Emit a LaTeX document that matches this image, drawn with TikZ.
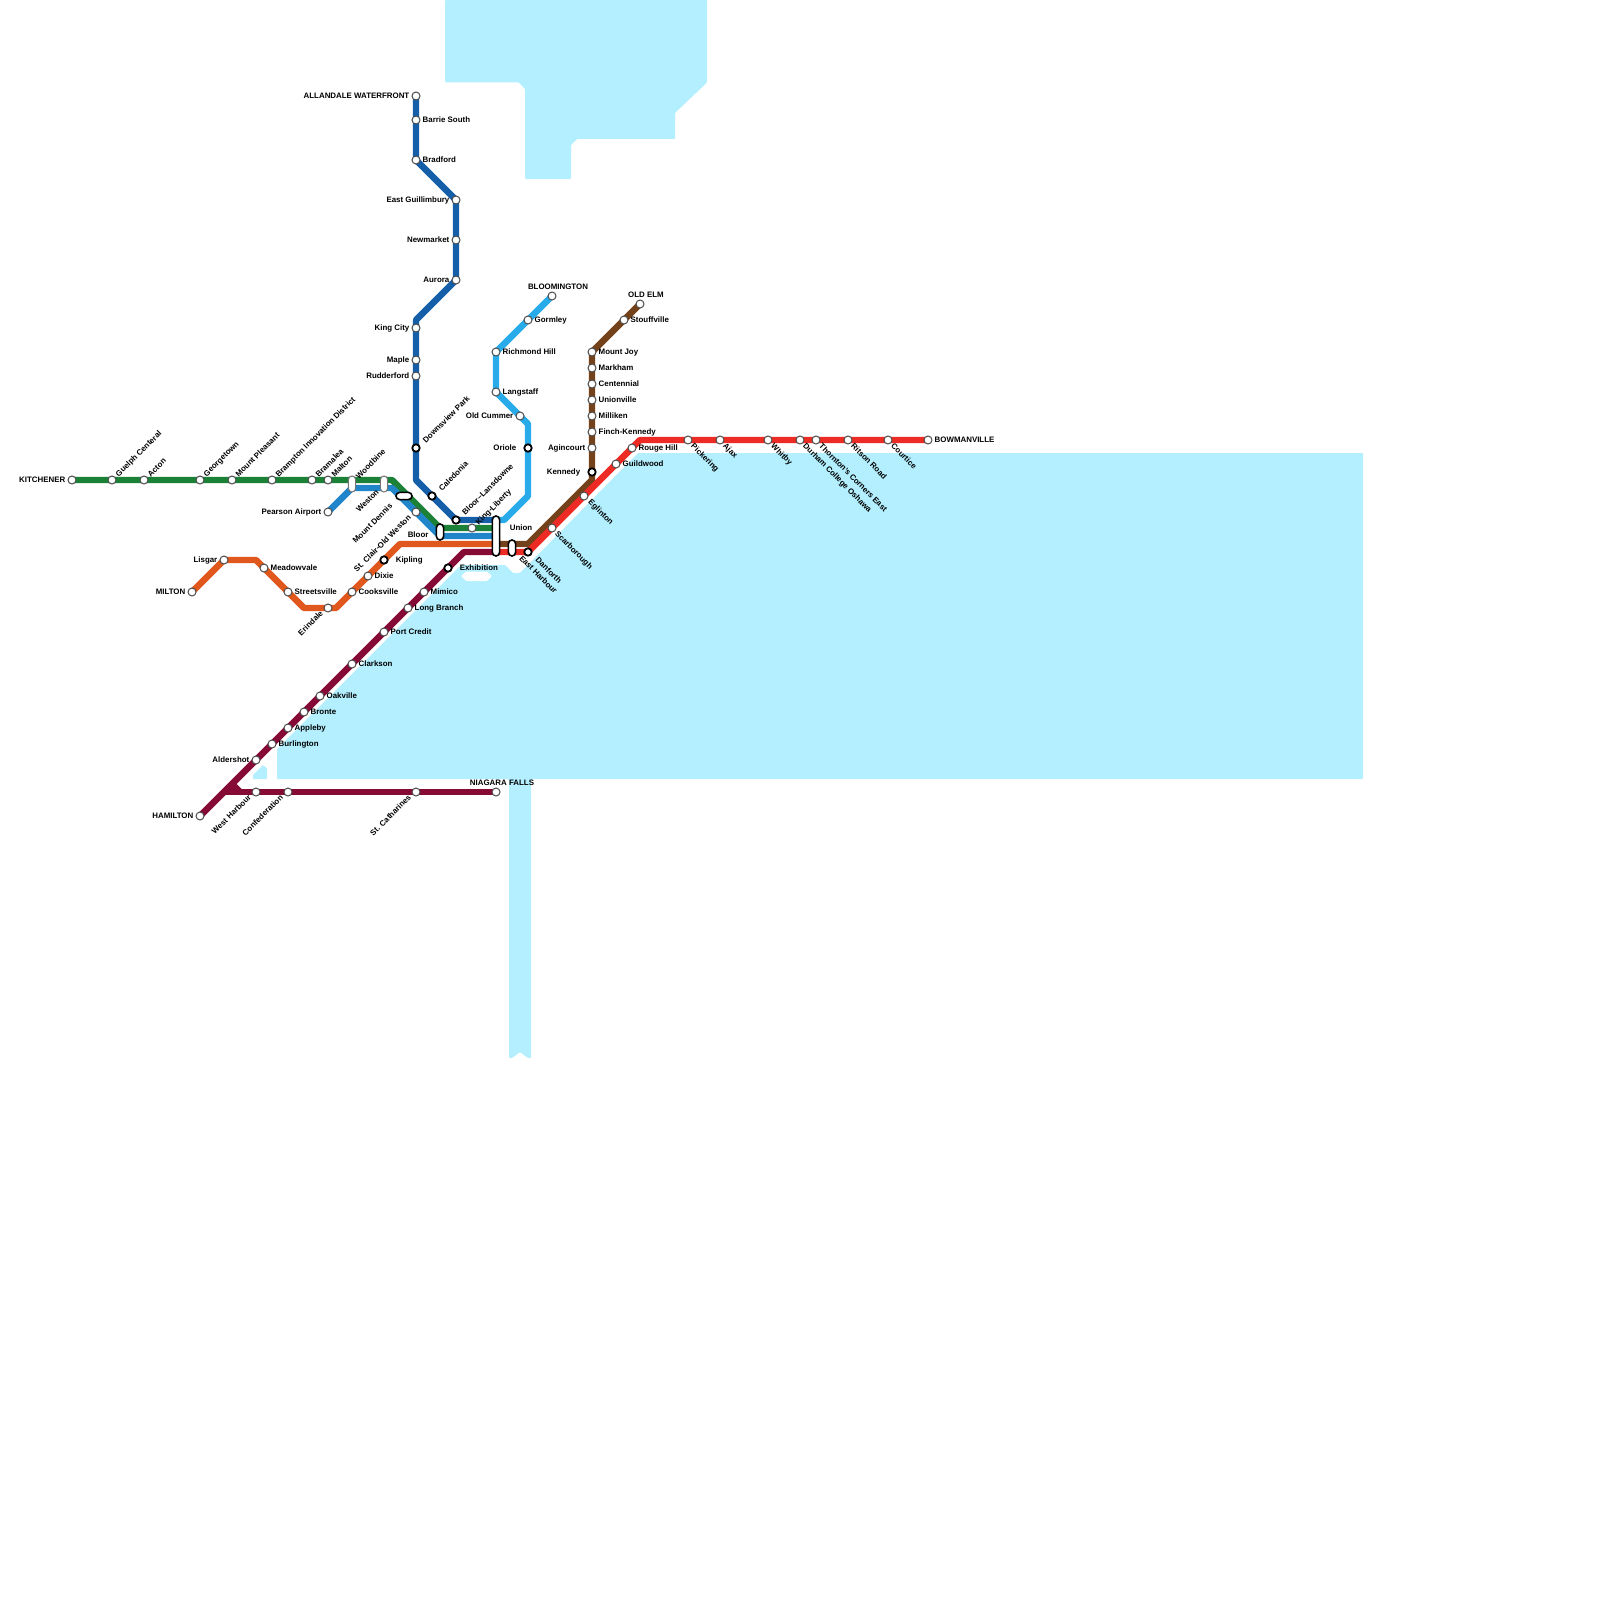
\documentclass[tikz,border=0pt]{standalone}
\usepackage{fontspec}
\setmainfont{Liberation Sans}
\usetikzlibrary{positioning}
\pgfdeclarelayer{bg}
\pgfsetlayers{bg,main}
\definecolor{water}{HTML}{B3EFFE}
\definecolor{lnGreen}{HTML}{1A8137}
\definecolor{lnNavy}{HTML}{155FA8}
\definecolor{lnBlue}{HTML}{2085C9}
\definecolor{lnSky}{HTML}{29ABE9}
\definecolor{lnOrange}{HTML}{E0581E}
\definecolor{lnMaroon}{HTML}{850A35}
\definecolor{lnBrown}{HTML}{74421A}
\definecolor{lnRed}{HTML}{EE2A24}
\tikzset{
  lab/.style={font=\bfseries\fontsize{3.95}{5}\selectfont, text=black, inner sep=0.9pt, text height=2.9pt, text depth=0pt},
  lbE/.style={label={[lab]right:#1}},
  lbW/.style={label={[lab]left:#1}},
  lbNE/.style={label={[lab,rotate=45,anchor=west]45:#1}},
  lbSE/.style={label={[lab,rotate=-45,anchor=west]-45:#1}},
  lbSW/.style={label={[lab,xshift=-0.9pt,yshift=0.3pt,rotate=45,anchor=east]225:#1}},
  stn/.style={circle, draw=black!70, line width=0.5pt, fill=white, minimum size=4pt, inner sep=0pt},
  ring/.style={circle, draw=black, line width=0.9pt, fill=white, minimum size=3.7pt, inner sep=0pt},
  pillV/.style={rectangle, rounded corners=1.8pt, draw=black, line width=0.8pt, fill=white, minimum width=3.6pt, minimum height=#1, inner sep=0pt},
  pillH/.style={rectangle, rounded corners=1.8pt, draw=black, line width=0.8pt, fill=white, minimum height=3.6pt, minimum width=#1, inner sep=0pt},
  pillG/.style={pillV=#1, draw=black!55, line width=0.5pt},
  track/.style={line width=3.2pt, line join=round}
}
\begin{document}
\begin{tikzpicture}[x=0.5pt,y=-0.5pt]
  \path[use as bounding box] (0,0) rectangle (1600,1600);

  % Kitchener line
  \node (kitchener) [stn, lbW=KITCHENER] at (72,480) {};
  \node (guelph) [stn, lbNE=Guelph Centeral] at (112,480) {};
  \node (acton) [stn, lbNE=Acton] at (144,480) {};
  \node (georgetown) [stn, lbNE=Georgetown] at (200,480) {};
  \node (mtpleasant) [stn, lbNE=Mount Pleasant] at (232,480) {};
  \node (brampton) [stn, lbNE=Brampton Innovation District] at (272,480) {};
  \node (bramalea) [stn, lbNE=Bramalea] at (312,480) {};
  \node (malton) [stn, lbNE=Malton] at (328,480) {};
  \node (stclair) [stn, lbSW=St. Clair-Old Weston] at (416,512) {};
  \node (kingliberty) [stn, lbNE=King-Liberty] at (472,528) {};

  % Airport line
  \node (pearson) [stn, lbW=Pearson Airport] at (328,512) {};
  \node (woodbine) [pillG=8pt, label={[lab,xshift=-0.3pt,yshift=0.6pt,rotate=45,anchor=west]45:Woodbine}] at (352,484) {};
  \node (weston) [pillG=8pt, label={[lab,xshift=-0.5pt,yshift=-0.6pt,rotate=45,anchor=east]225:Weston}] at (384,484) {};
  \node (mtdennis) [pillH=8pt, label={[lab,xshift=-3.6pt,yshift=-1.4pt,rotate=45,anchor=east]225:Mount Dennis}] at (404,496) {};
  \node (bloor) [pillV=8pt] at (440,532) {};
  \node (bloorT) [lab, left=2.5pt of bloor.west, yshift=-1.5pt] {Bloor};

  % Barrie line
  \node (allandale) [stn, lbW=ALLANDALE WATERFRONT] at (416,96) {};
  \node (barrie) [stn, lbE=Barrie South] at (416,120) {};
  \node (bradford) [stn, lbE=Bradford] at (416,160) {};
  \node (eastgwil) [stn, lbW=East Guillimbury] at (456,200) {};
  \node (newmarket) [stn, lbW=Newmarket] at (456,240) {};
  \node (aurora) [stn, lbW=Aurora] at (456,280) {};
  \node (kingcity) [stn, lbW=King City] at (416,328) {};
  \node (maple) [stn, lbW=Maple] at (416,360) {};
  \node (rutherford) [stn, lbW=Rudderford] at (416,376) {};
  \node (downsview) [ring, label={[lab,rotate=45,anchor=west,xshift=1.8pt,yshift=-0.5pt]45:Downsview Park}] at (416,448) {};
  \node (caledonia) [ring, label={[lab,rotate=45,anchor=west,xshift=1.8pt,yshift=-0.5pt]45:Caledonia}] at (432,496) {};
  \node (lansdowne) [ring, label={[lab,rotate=45,anchor=west,xshift=1.5pt,yshift=-0.3pt]45:Bloor–Lansdowne}] at (456,520) {};

  % Milton line
  \node (milton) [stn, lbW=MILTON] at (192,592) {};
  \node (lisgar) [stn, lbW=Lisgar] at (224,560) {};
  \node (meadowvale) [stn, lbE=Meadowvale] at (264,568) {};
  \node (streetsville) [stn, lbE=Streetsville] at (288,592) {};
  \node (erindale) [stn, lbSW=Erindale] at (328,608) {};
  \node (cooksville) [stn, lbE=Cooksville] at (352,592) {};
  \node (dixie) [stn, lbE=Dixie] at (368,576) {};
  \node (kipling) [ring, label={[lab,xshift=2.5pt]right:Kipling}] at (384,560) {};

  % Lakeshore West line
  \node (hamilton) [stn, lbW=HAMILTON] at (200,816) {};
  \node (aldershot) [stn, lbW=Aldershot] at (256,760) {};
  \node (burlington) [stn, lbE=Burlington] at (272,744) {};
  \node (appleby) [stn, lbE=Appleby] at (288,728) {};
  \node (bronte) [stn, lbE=Bronte] at (304,712) {};
  \node (oakville) [stn, lbE=Oakville] at (320,696) {};
  \node (clarkson) [stn, lbE=Clarkson] at (352,664) {};
  \node (portcredit) [stn, lbE=Port Credit] at (384,632) {};
  \node (longbranch) [stn, lbE=Long Branch] at (408,608) {};
  \node (mimico) [stn, lbE=Mimico] at (424,592) {};
  \node (exhibition) [ring, label={[lab,xshift=2.5pt]right:Exhibition}] at (448,568) {};
  \node (westharbour) [stn, lbSW=West Harbour] at (256,792) {};
  \node (confederation) [stn, lbSW=Confederation] at (288,792) {};
  \node (catharines) [stn, lbSW=St. Catharines] at (416,792) {};
  \node (niagara) [stn, label={[lab,xshift=3pt]above:NIAGARA FALLS}] at (496,792) {};

  % Richmond Hill line
  \node (bloomington) [stn, label={[lab,xshift=3pt]above:BLOOMINGTON}] at (552,296) {};
  \node (gormley) [stn, lbE=Gormley] at (528,320) {};
  \node (richmond) [stn, lbE=Richmond Hill] at (496,352) {};
  \node (langstaff) [stn, lbE=Langstaff] at (496,392) {};
  \node (oldcummer) [stn, lbW=Old Cummer] at (520,416) {};
  \node (oriole) [ring, label={[lab,xshift=-2.5pt]left:Oriole}] at (528,448) {};

  % Stouffville line
  \node (oldelm) [stn, label={[lab,xshift=3pt]above:OLD ELM}] at (640,304) {};
  \node (stouffville) [stn, lbE=Stouffville] at (624,320) {};
  \node (mtjoy) [stn, lbE=Mount Joy] at (592,352) {};
  \node (markham) [stn, lbE=Markham] at (592,368) {};
  \node (centennial) [stn, lbE=Centennial] at (592,384) {};
  \node (unionville) [stn, lbE=Unionville] at (592,400) {};
  \node (milliken) [stn, lbE=Milliken] at (592,416) {};
  \node (finch) [stn, lbE=Finch-Kennedy] at (592,432) {};
  \node (agincourt) [stn, lbW=Agincourt] at (592,448) {};
  \node (kennedy) [ring, label={[lab,xshift=-2.5pt]left:Kennedy}] at (592,472) {};

  % Lakeshore East line
  \node (bowmanville) [stn, lbE=BOWMANVILLE] at (928,440) {};
  \node (courtice) [stn, lbSE=Courtice] at (888,440) {};
  \node (ritson) [stn, lbSE=Ritson Road] at (848,440) {};
  \node (thornton) [stn, lbSE=Thornton's Corners East] at (816,440) {};
  \node (durham) [stn, lbSE=Durham College Oshawa] at (800,440) {};
  \node (whitby) [stn, lbSE=Whitby] at (768,440) {};
  \node (ajax) [stn, lbSE=Ajax] at (720,440) {};
  \node (pickering) [stn, lbSE=Pickering] at (688,440) {};
  \node (rouge) [stn, lbE=Rouge Hill] at (632,448) {};
  \node (guildwood) [stn, lbE=Guildwood] at (616,464) {};
  \node (eglinton) [stn, label={[lab,xshift=0.6pt,rotate=-45,anchor=west]-45:Eglinton}] at (584,496) {};
  \node (scarborough) [stn, lbSE=Scarborough] at (552,528) {};
  \node (danforth) [ring, label={[lab,xshift=2.2pt,yshift=-0.9pt,rotate=-45,anchor=west]-45:Danforth}] at (528,552) {};
  \node (eastharbour) [pillV=8pt, label={[lab,xshift=1.5pt,yshift=-1.5pt,rotate=-45,anchor=west]-45:East Harbour}] at (512,548) {};
  \node (union) [pillV=20pt] at (496,536) {};
  \node (unionT) [lab] at (521,528) {Union};

  % Bends and free ends
  \coordinate (gnA) at (392,480);
  \coordinate (gnB) at (440,528);
  \coordinate (gnC) at (496,528);
  \coordinate (buA) at (352,488);
  \coordinate (buB) at (392,488);
  \coordinate (buC) at (440,536);
  \coordinate (buD) at (496,536);
  \coordinate (nvA) at (416,320);
  \coordinate (nvB) at (416,480);
  \coordinate (nvC) at (496,520);
  \coordinate (orA) at (256,560);
  \coordinate (orB) at (304,608);
  \coordinate (orC) at (336,608);
  \coordinate (orD) at (400,544);
  \coordinate (orE) at (496,544);
  \coordinate (mrA) at (464,552);
  \coordinate (mrB) at (496,552);
  \coordinate (mrC) at (224,792);
  \coordinate (mrD) at (232,784);
  \coordinate (mrE) at (240,792);
  \coordinate (skA) at (528,424);
  \coordinate (skB) at (528,496);
  \coordinate (skC) at (504,520);
  \coordinate (skD) at (496,520);
  \coordinate (brA) at (592,480);
  \coordinate (brB) at (528,544);
  \coordinate (brC) at (496,544);
  \coordinate (rdA) at (640,440);

  \begin{pgfonlayer}{bg}
    % Water
    \fill[water, rounded corners=0.5pt] (445,0) -- (707,0) -- (707,82.5) -- (675,113) -- (675,139) -- (577,139) -- (571,145) -- (571,179) -- (525,179) -- (525,89) -- (519,82.5) -- (445,82.5) -- cycle;
    \fill[water, rounded corners=0.5pt] (638,453) -- (1363,453) -- (1363,779) -- (531,779) -- (531,1058) -- (528,1058) -- (520,1052) -- (512,1058) -- (509,1058) -- (509,779) -- (277,779) -- (277,749) -- (461,565) -- (505,565) -- (513,573) -- (520,573) -- cycle;
    \fill[water, rounded corners=0.5pt] (253,779) -- (253,775) -- (263,765) -- (267,768) -- (267,779) -- cycle;
    \fill[white, rounded corners=0.5pt] (461,576) -- (466,571.5) -- (487,571.5) -- (492,576) -- (487,581) -- (466,581) -- cycle;

    % Lines
    \draw[track, lnGreen] (kitchener.center) -- (gnA) -- (gnB) -- (gnC);
    \draw[track, lnBlue] (pearson.center) -- (buA) -- (buB) -- (buC) -- (buD);
    \draw[track, lnNavy] (allandale.center) -- (bradford.center) -- (eastgwil.center) -- (aurora.center) -- (nvA) -- (nvB) -- (lansdowne.center) -- (nvC);
    \draw[track, lnOrange] (milton.center) -- (lisgar.center) -- (orA) -- (orB) -- (orC) -- (orD) -- (orE);
    \draw[track, lnSky] (bloomington.center) -- (richmond.center) -- (langstaff.center) -- (oldcummer.center) -- (skA) -- (skB) -- (skC) -- (skD);
    \draw[track, lnBrown] (oldelm.center) -- (mtjoy.center) -- (brA) -- (brB) -- (brC);
    \draw[track, lnRed] (bowmanville.center) -- (rdA) -- (danforth.center) -- (mrB);
    \draw[track, lnMaroon] (hamilton.center) -- (mrA) -- (mrB);
    \draw[track, lnMaroon] (mrC) -- (niagara.center);
    \draw[track, lnMaroon] (mrD) -- (mrE);
  \end{pgfonlayer}
\end{tikzpicture}
\end{document}
